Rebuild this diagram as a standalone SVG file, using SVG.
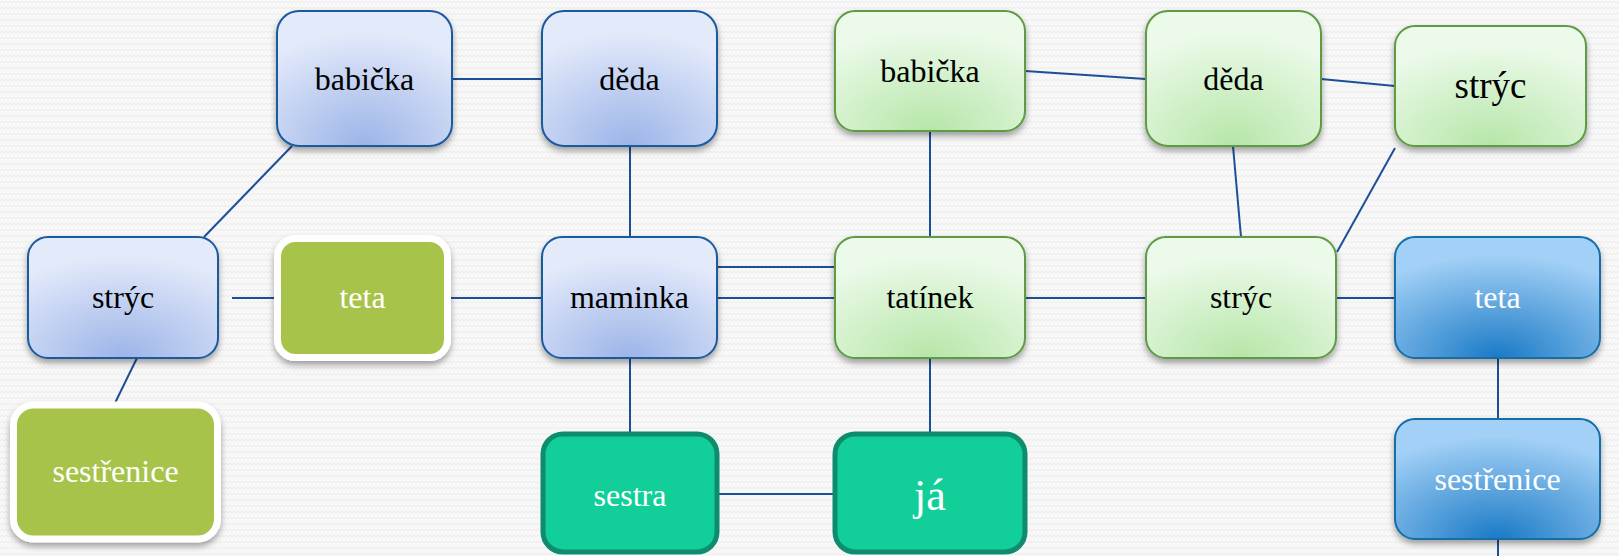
<svg xmlns="http://www.w3.org/2000/svg" width="1619" height="556" viewBox="0 0 1619 556">
<defs>
<pattern id="bgp" width="8" height="6" patternUnits="userSpaceOnUse">
<rect width="8" height="6" fill="#f7f7f7"/>
<path d="M0 3 L2 1 L4 3 L6 1 L8 3" fill="none" stroke="#ececec" stroke-width="1"/>
</pattern>
<radialGradient id="gBlue" cx="50%" cy="100%" r="85%" fx="50%" fy="100%">
<stop offset="0" stop-color="#9cb4e8"/>
<stop offset="1" stop-color="#e3eafa"/>
</radialGradient>
<radialGradient id="gGreen" cx="50%" cy="100%" r="85%" fx="50%" fy="100%">
<stop offset="0" stop-color="#b6e6a8"/>
<stop offset="1" stop-color="#ecfaea"/>
</radialGradient>
<radialGradient id="gDark" cx="50%" cy="100%" r="85%" fx="50%" fy="100%">
<stop offset="0" stop-color="#1a7ac6"/>
<stop offset="1" stop-color="#a2d0f6"/>
</radialGradient>
<filter id="sh" x="-10%" y="-10%" width="120%" height="130%">
<feDropShadow dx="0" dy="4" stdDeviation="3" flood-color="#000" flood-opacity="0.35"/>
</filter>
<style>
.lb{fill:url(#gBlue);stroke:#1d5a9e;stroke-width:2;filter:url(#sh)}
.lg{fill:url(#gGreen);stroke:#5e9a44;stroke-width:2;filter:url(#sh)}
.dk{fill:url(#gDark);stroke:#146ea6;stroke-width:2;filter:url(#sh)}
.ol{fill:#a8c34a;stroke:#ffffff;stroke-width:7;filter:url(#sh)}
.tl{fill:#12cf9a;stroke:#0f8c6e;stroke-width:5}
.t{font-family:"Liberation Serif",serif;font-size:32px;text-anchor:middle}
.k{fill:#000}
.w{fill:#fff}
.c line{stroke:#1d4f99;stroke-width:2}
</style>
</defs>
<rect width="1619" height="556" fill="url(#bgp)"/>
<g class="c" id="connectors">
<line x1="452" y1="79" x2="542" y2="79"/>
<line x1="292" y1="146" x2="204" y2="237"/>
<line x1="232" y1="298" x2="277" y2="298"/>
<line x1="451" y1="298" x2="542" y2="298"/>
<line x1="137" y1="358" x2="115" y2="403"/>
<line x1="630" y1="146" x2="630" y2="237"/>
<line x1="717" y1="267" x2="835" y2="267"/>
<line x1="717" y1="298" x2="835" y2="298"/>
<line x1="630" y1="358" x2="630" y2="434"/>
<line x1="930" y1="131" x2="930" y2="237"/>
<line x1="930" y1="358" x2="930" y2="434"/>
<line x1="719" y1="494" x2="835" y2="494"/>
<line x1="1025" y1="71" x2="1146" y2="79"/>
<line x1="1321" y1="79" x2="1395" y2="86"/>
<line x1="1233" y1="146" x2="1241" y2="237"/>
<line x1="1395" y1="148" x2="1337" y2="252"/>
<line x1="1025" y1="298" x2="1146" y2="298"/>
<line x1="1336" y1="298" x2="1395" y2="298"/>
<line x1="1498" y1="358" x2="1498" y2="419"/>
<line x1="1498" y1="539" x2="1498" y2="556"/>
</g>
<g id="babicka1"><rect class="lb" x="277" y="11" width="175" height="135" rx="22"/><text class="t k" x="364.5" y="90">babička</text></g>
<g id="deda1"><rect class="lb" x="542" y="11" width="175" height="135" rx="22"/><text class="t k" x="629.5" y="90">děda</text></g>
<g id="stryc1"><rect class="lb" x="28" y="237" width="190" height="121" rx="20"/><text class="t k" x="123" y="308">strýc</text></g>
<g id="teta1"><rect class="ol" x="277.5" y="238.5" width="170" height="119" rx="18"/><text class="t w" x="362.5" y="308">teta</text></g>
<g id="maminka"><rect class="lb" x="542" y="237" width="175" height="121" rx="20"/><text class="t k" x="629.5" y="308">maminka</text></g>
<g id="sestrenice1"><rect class="ol" x="13.5" y="405" width="204" height="134" rx="20"/><text class="t w" x="115.5" y="482">sestřenice</text></g>
<g id="sestra"><rect class="tl" x="543" y="434" width="174" height="118" rx="20"/><text class="t w" x="630" y="506">sestra</text></g>
<g id="ja"><rect class="tl" x="835" y="434" width="190" height="118" rx="20"/><text class="t w" x="930" y="510" style="font-size:44px">já</text></g>
<g id="babicka2"><rect class="lg" x="835" y="11" width="190" height="120" rx="20"/><text class="t k" x="930" y="82">babička</text></g>
<g id="tatinek"><rect class="lg" x="835" y="237" width="190" height="121" rx="20"/><text class="t k" x="930" y="308">tatínek</text></g>
<g id="deda2"><rect class="lg" x="1146" y="11" width="175" height="135" rx="22"/><text class="t k" x="1233.5" y="90">děda</text></g>
<g id="stryc2"><rect class="lg" x="1395" y="26" width="191" height="120" rx="20"/><text class="t k" x="1490.5" y="98" style="font-size:37px">strýc</text></g>
<g id="stryc3"><rect class="lg" x="1146" y="237" width="190" height="121" rx="20"/><text class="t k" x="1241" y="308">strýc</text></g>
<g id="teta2"><rect class="dk" x="1395" y="237" width="205" height="121" rx="20"/><text class="t w" x="1497.5" y="308">teta</text></g>
<g id="sestrenice2"><rect class="dk" x="1395" y="419" width="205" height="120" rx="20"/><text class="t w" x="1497.5" y="490">sestřenice</text></g>
</svg>
